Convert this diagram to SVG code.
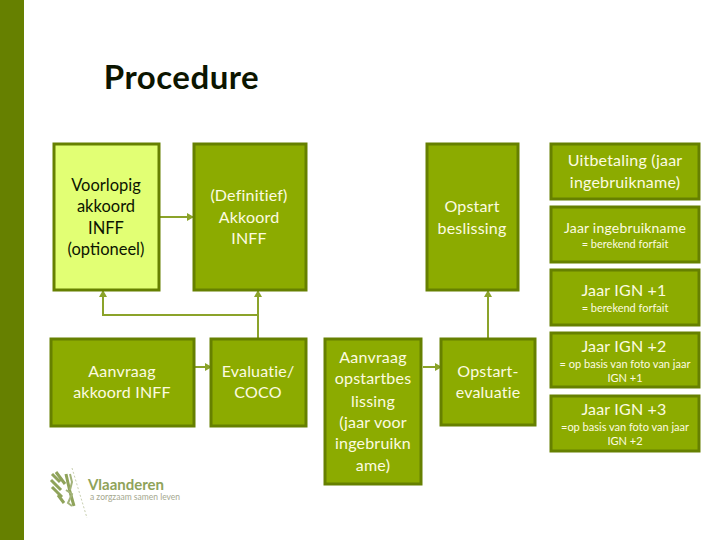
<svg xmlns="http://www.w3.org/2000/svg" width="720" height="540" viewBox="0 0 720 540">
<style>
text{font-family:"Lato","Open Sans","Liberation Sans",sans-serif;text-anchor:middle}
.b{fill:#8cab00;stroke:#668000;stroke-width:3}
.l{fill:#e2ff74;stroke:#668000;stroke-width:3}
.t{fill:#fdfbe0;font-size:16px;letter-spacing:.2px}
.k{fill:#0c1500;font-size:16.500px}
.s{fill:#fdfbe0;font-size:11px}
.c{fill:none;stroke:#8ba32a;stroke-width:2}
</style>
<defs><marker id="a" markerWidth="7" markerHeight="8" refX="6" refY="4" orient="auto" markerUnits="userSpaceOnUse"><path d="M0 0L7 4L0 8Z" fill="#8ba32a"/></marker></defs>
<rect width="720" height="540" fill="#fff"/>
<rect width="24" height="540" fill="#668000"/>
<text x="181.500" y="89" style="font-size:33px;letter-spacing:.5px;font-weight:700;fill:#0c1500">Procedure</text>
<g id="connectors">
<path class="c" d="M159 217H193" marker-end="url(#a)"/>
<path class="c" d="M258 339V291" marker-end="url(#a)"/>
<path class="c" d="M258 315H103V291" marker-end="url(#a)"/>
<path class="c" d="M194 367H211" marker-end="url(#a)"/>
<path class="c" d="M488 339V291" marker-end="url(#a)"/>
<path class="c" d="M423 367H441" marker-end="url(#a)"/>
</g>
<g id="n1"><rect class="l" x="54" y="144" width="105" height="146"/><text class="k" x="106" y="191">Voorlopig</text><text class="k" x="106" y="212">akkoord</text><text class="k" x="106" y="234">INFF</text><text class="k" x="106" y="255">(optioneel)</text></g>
<g id="n2"><rect class="b" x="194" y="144" width="112" height="146"/><text class="t" x="249" y="201">(Definitief)</text><text class="t" x="249" y="223">Akkoord</text><text class="t" x="249" y="244">INFF</text></g>
<g id="n3"><rect class="b" x="427" y="144" width="91" height="146"/><text class="t" x="472" y="212">Opstart</text><text class="t" x="472" y="234">beslissing</text></g>
<g id="n4"><rect class="b" x="551" y="144" width="148" height="55"/><text class="t" x="625" y="166">Uitbetaling (jaar</text><text class="t" x="625" y="188">ingebruikname)</text></g>
<g id="n5"><rect class="b" x="551" y="207" width="148" height="55"/><text class="t" x="625" y="233" style="font-size:14px">Jaar ingebruikname</text><text class="s" x="625" y="248">= berekend forfait</text></g>
<g id="n6"><rect class="b" x="551" y="270" width="148" height="55"/><text class="t" x="624" y="296">Jaar IGN +1</text><text class="s" x="625" y="312">= berekend forfait</text></g>
<g id="n7"><rect class="b" x="551" y="333" width="148" height="54"/><text class="t" x="624" y="352">Jaar IGN +2</text><text class="s" x="625" y="368">= op basis van foto van jaar</text><text class="s" x="625" y="382">IGN +1</text></g>
<g id="n8"><rect class="b" x="551" y="396" width="148" height="55"/><text class="t" x="624" y="415">Jaar IGN +3</text><text class="s" x="625" y="431">=op basis van foto van jaar</text><text class="s" x="625" y="445">IGN +2</text></g>
<g id="n9"><rect class="b" x="51" y="339" width="143" height="87"/><text class="t" x="122" y="377">Aanvraag</text><text class="t" x="122" y="398">akkoord INFF</text></g>
<g id="n10"><rect class="b" x="211" y="339" width="95" height="87"/><text class="t" x="258" y="377">Evaluatie/</text><text class="t" x="258" y="398">COCO</text></g>
<g id="n11"><rect class="b" x="325" y="339" width="96" height="145"/><text class="t" x="373" y="363">Aanvraag</text><text class="t" x="373" y="384">opstartbes</text><text class="t" x="373" y="407">lissing</text><text class="t" x="373" y="428">(jaar voor</text><text class="t" x="373" y="449">ingebruikn</text><text class="t" x="373" y="471">ame)</text></g>
<g id="n12"><rect class="b" x="441" y="339" width="94" height="86"/><text class="t" x="488" y="377">Opstart-</text><text class="t" x="488" y="398">evaluatie</text></g>
<g id="logo">
<path d="M52 474L60 482M51 480L61 490M52 487L62 497M56 472L65 484M58 495L64 503M66 474L70 492L74 506" fill="none" stroke="#8fa35a" stroke-width="3"/>
<path d="M70 474L72 482L70 490M66 490L72 494L68 503L72 506" fill="none" stroke="#a3b37a" stroke-width="2"/>
<path d="M72 468L87 518" fill="none" stroke="#c8cfb0" stroke-width="1" stroke-dasharray="2 2"/>
<text x="126" y="490" style="font-size:15px;font-weight:700;fill:#8fa35a">Vlaanderen</text>
<text x="135" y="500" style="font-size:8.500px;fill:#a5a88f">a zorgzaam samen leven</text>
</g>
</svg>
